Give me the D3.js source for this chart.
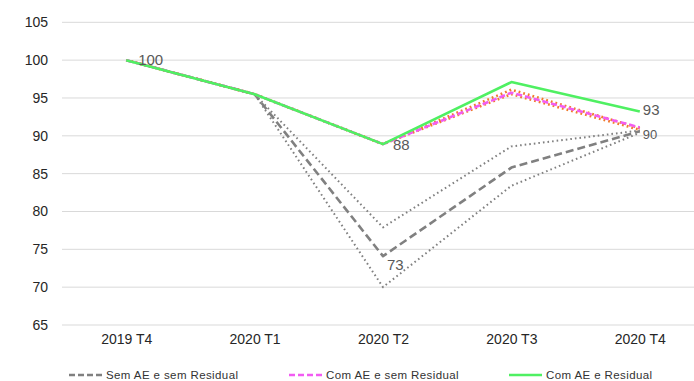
<!DOCTYPE html>
<html>
<head>
<meta charset="utf-8">
<script src="https://cdn.jsdelivr.net/npm/d3@7"></script>
<style>
  html, body { margin: 0; padding: 0; background: #fff; }
  svg { display: block; font-family: "Liberation Sans", Arial, sans-serif; }
</style>
</head>
<body>
<svg id="chart" width="694" height="381"></svg>
<script>
const categories = ["2019 T4", "2020 T1", "2020 T2", "2020 T3", "2020 T4"];
const yTicks = [65, 70, 75, 80, 85, 90, 95, 100, 105];

// Sem AE e sem Residual (central, dashed gray) and its bounds (dotted gray)
const semAE      = [100, 95.5, 74.1, 85.8, 90.6];
const semAEHigh  = [100, 95.5, 77.9, 88.6, 90.7];
const semAELow   = [100, 95.5, 70.0, 83.4, 90.4];
// Com AE e sem Residual (dashed magenta) and its bounds (dotted orange)
const comAE      = [100, 95.5, 88.9, 95.7, 91.1];
const comAEHigh  = [100, 95.5, 88.9, 96.1, 91.0];
const comAELow   = [100, 95.5, 88.9, 95.5, 90.8];
// Com AE e Residual (solid green)
const comAERes   = [100, 95.5, 88.9, 97.1, 93.2];

// Data labels: [series, category index, text]
const labelSeries = ["comAERes", "comAERes", "semAE", "comAERes", "semAE"];
const labelIndex  = [0, 2, 2, 4, 4];
const labelText   = ["100", "88", "73", "93", "90"];

const legendNames = ["Sem AE e sem Residual", "Com AE e sem Residual", "Com AE e Residual"];

const seriesMap = { semAE, semAEHigh, semAELow, comAE, comAEHigh, comAELow, comAERes };

const svg = d3.select("#chart");
const x = d3.scalePoint().domain(categories).range([62, 704]).padding(0.5);
const y = d3.scaleLinear().domain([65, 105]).range([325, 22.3]);

// gridlines
svg.append("g").selectAll("line").data(yTicks).join("line")
  .attr("x1", 62).attr("x2", 694)
  .attr("y1", d => y(d)).attr("y2", d => y(d))
  .attr("stroke", "#d9d9d9").attr("stroke-width", 1);

// y axis labels
const yAxis = svg.append("g").attr("transform", "translate(48,0)")
  .call(d3.axisLeft(y).tickValues(yTicks).tickSize(0).tickPadding(0));
yAxis.select(".domain").remove();
yAxis.selectAll("text").attr("font-size", 14).attr("fill", "#262626")
  .attr("font-family", "Liberation Sans, Arial, sans-serif");

// x axis labels
const xAxis = svg.append("g").attr("transform", "translate(0,334)")
  .call(d3.axisBottom(x).tickSize(0).tickPadding(0));
xAxis.select(".domain").remove();
xAxis.selectAll("text").attr("font-size", 14).attr("fill", "#262626")
  .attr("font-family", "Liberation Sans, Arial, sans-serif");

const line = d3.line().x((d, i) => x(categories[i])).y(d => y(d));

const styles = [
  { key: "semAEHigh", color: "#808080", w: 2, dash: "1.6 3" },
  { key: "semAELow",  color: "#808080", w: 2, dash: "1.6 3" },
  { key: "semAE",     color: "#808080", w: 2.6, dash: "8 4" },
  { key: "comAEHigh", color: "#f07b2b", w: 2.6, dash: "1.8 3" },
  { key: "comAELow",  color: "#f07b2b", w: 2.6, dash: "1.8 3" },
  { key: "comAE",     color: "#f25cf2", w: 2.6, dash: "6 3" },
  { key: "comAERes",  color: "#4ff062", w: 2.6, dash: null }
];

svg.append("g").selectAll("path").data(styles).join("path")
  .attr("d", s => line(seriesMap[s.key]))
  .attr("fill", "none")
  .attr("stroke", s => s.color)
  .attr("stroke-width", s => s.w)
  .attr("stroke-dasharray", s => s.dash)
  .attr("stroke-linejoin", "round");

// data labels
const labelOffsets = [[12, 5, 15], [10, 6, 15], [4, 14, 15], [3, 3, 15], [3, 8, 13]];
svg.append("g").selectAll("text").data(labelText).join("text")
  .attr("x", (d, i) => x(categories[labelIndex[i]]) + labelOffsets[i][0])
  .attr("y", (d, i) => y(seriesMap[labelSeries[i]][labelIndex[i]]) + labelOffsets[i][1])
  .attr("font-size", (d, i) => labelOffsets[i][2])
  .attr("fill", "#595959")
  .text(d => d);

// legend
const legendColors = ["#808080", "#f25cf2", "#4ff062"];
const legendDash = ["6 3", "6 3", null];
const legendX = [69, 289, 509];
const lg = svg.append("g").selectAll("g").data(legendNames).join("g")
  .attr("transform", (d, i) => `translate(${legendX[i]},375)`);
lg.append("line").attr("x1", 0).attr("x2", 33).attr("y1", 0).attr("y2", 0)
  .attr("stroke", (d, i) => legendColors[i]).attr("stroke-width", 2.6)
  .attr("stroke-dasharray", (d, i) => legendDash[i]);
lg.append("text").attr("x", 37).attr("y", 4).attr("font-size", 11.5)
  .attr("letter-spacing", 0.4).attr("fill", "#333").text(d => d);
</script>
</body>
</html>
